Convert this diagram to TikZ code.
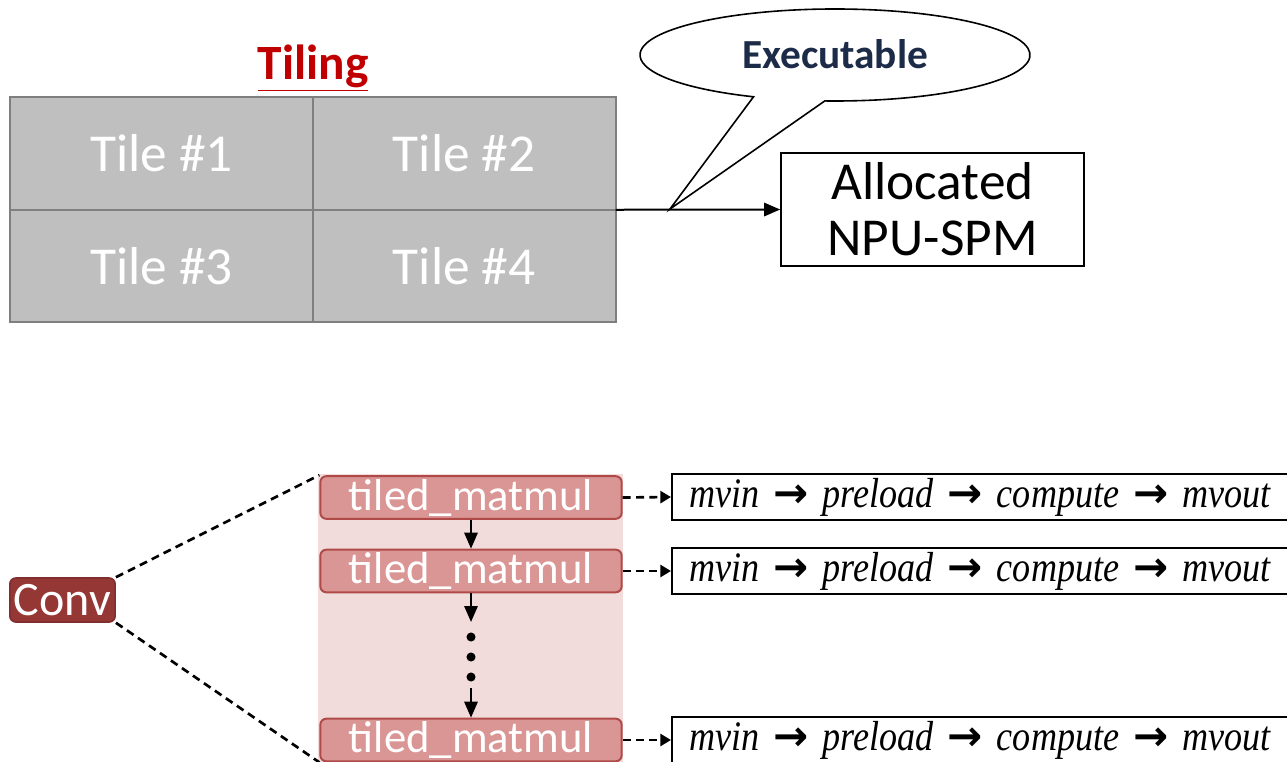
\documentclass[tikz,border=0pt]{standalone}
\usepackage{fontspec}
\setmainfont{Carlito}
\newfontfamily\opfont{Liberation Serif}[FakeStretch=0.86]
\newfontfamily\arrowfont{DejaVu Sans}
\usetikzlibrary{arrows.meta,positioning}
\definecolor{tilegray}{HTML}{BFBFBF}
\definecolor{tileedge}{HTML}{7F7F7F}
\definecolor{tilingred}{HTML}{C00000}
\definecolor{execblue}{HTML}{1C2B48}
\definecolor{bandpink}{HTML}{F2DCDB}
\definecolor{mmfill}{HTML}{DA9694}
\definecolor{mmedge}{HTML}{B04A48}
\definecolor{convred}{HTML}{953735}
\newcommand{\nxt}{{\arrowfont\bfseries →}}
\begin{document}
\begin{tikzpicture}[x=0.75pt,y=-0.75pt,
  tile/.style={draw=tileedge,fill=tilegray,line width=1.5pt,outer sep=0pt,inner sep=0pt,
    minimum width=227pt,minimum height=84.4pt,text=white,font=\fontsize{40}{44}\selectfont},
  spmbox/.style={draw,line width=1.5pt,minimum width=227pt,minimum height=85pt,align=center,
    font=\fontsize{40}{42}\selectfont},
  mmbox/.style={draw=mmedge,fill=mmfill,line width=1.5pt,rounded corners=4.5pt,inner sep=0pt,
    minimum width=226pt,minimum height=32pt,text=white,font=\fontsize{33.5}{36}\selectfont},
  convbox/.style={draw=convred!85!black,fill=convred,line width=1.2pt,rounded corners=4.5pt,inner sep=0pt,
    minimum width=79pt,minimum height=33pt,text=white,font=\fontsize{36}{38}\selectfont},
  opbox/.style={draw,line width=1.5pt,anchor=west,minimum height=34.5pt,inner xsep=13pt,inner ysep=0pt,
    text width=470pt,align=left,font=\opfont\itshape\fontsize{31.5}{34}\selectfont},
  solid arrow/.style={line width=1.5pt,-{Triangle[length=12pt,width=10pt]}},
  dash arrow/.style={line width=2pt,dash pattern=on 6pt off 4pt,-{Triangle[length=8pt,width=9pt]}}]
\useasboundingbox (0,0) rectangle (1287,762);
\clip (0,0) rectangle (1287,762);

% tiling grid
\node[font=\bfseries\fontsize{37}{40}\selectfont,text=tilingred,anchor=base] (tiling) at (313,80) {\underline{Tiling}};
\node[tile] (tile1) at (161.5,153.5) {Tile \#1};
\node[tile,right=0pt of tile1] (tile2) {Tile \#2};
\node[tile,below=0pt of tile1] (tile3) {Tile \#3};
\node[tile,right=0pt of tile3] (tile4) {Tile \#4};

\node[spmbox] (alloc) at (932.5,209.5) {Allocated\\NPU-SPM};
\draw[solid arrow] (tile2.south east) -- (alloc.west);

% callout
\coordinate (tip) at (670,209);
\draw[line width=1.2pt] (835,55) ++(267:146.25pt and 34.5pt)
  arc[start angle=267,end angle=605.3,x radius=146.25pt,y radius=34.5pt] -- (tip) -- cycle;
\node[font=\bfseries\fontsize{31}{34}\selectfont,text=execblue,anchor=base] (exec) at (835,69) {Executable};

% conv layer
\fill[bandpink] (318,474) rectangle (623,770);
\node[convbox] (conv) at (62.5,600) {Conv};
\node[mmbox] (mm1) at (471,497.5) {tiled\_matmul};
\node[mmbox] (mm2) at (471,571) {tiled\_matmul};
\node[mmbox] (mm3) at (471,740) {tiled\_matmul};
\draw[line width=2pt,dash pattern=on 6pt off 4pt] (conv.north east) -- (mm1.north west);
\draw[line width=2pt,dash pattern=on 6pt off 4pt] (conv.south east) -- (mm3.south west);

\coordinate (dtop) at (471,622);
\coordinate (dbot) at (471,688);
\draw[solid arrow] (mm1.south) -- (mm2.north);
\draw[solid arrow] (mm2.south) -- (dtop);
\foreach \y in {637,657,677}
  \fill (471,\y) circle[radius=3.4pt];
\draw[solid arrow] (dbot) -- (mm3.north);

\foreach \i/\y in {1/497,2/571,3/740}{
  \node[opbox] (op\i) at (671,\y) {mvin \nxt{} preload \nxt{} compute \nxt{} mvout};
  \draw[dash arrow] (mm\i.east) -- (op\i.west);
}
\end{tikzpicture}
\end{document}
